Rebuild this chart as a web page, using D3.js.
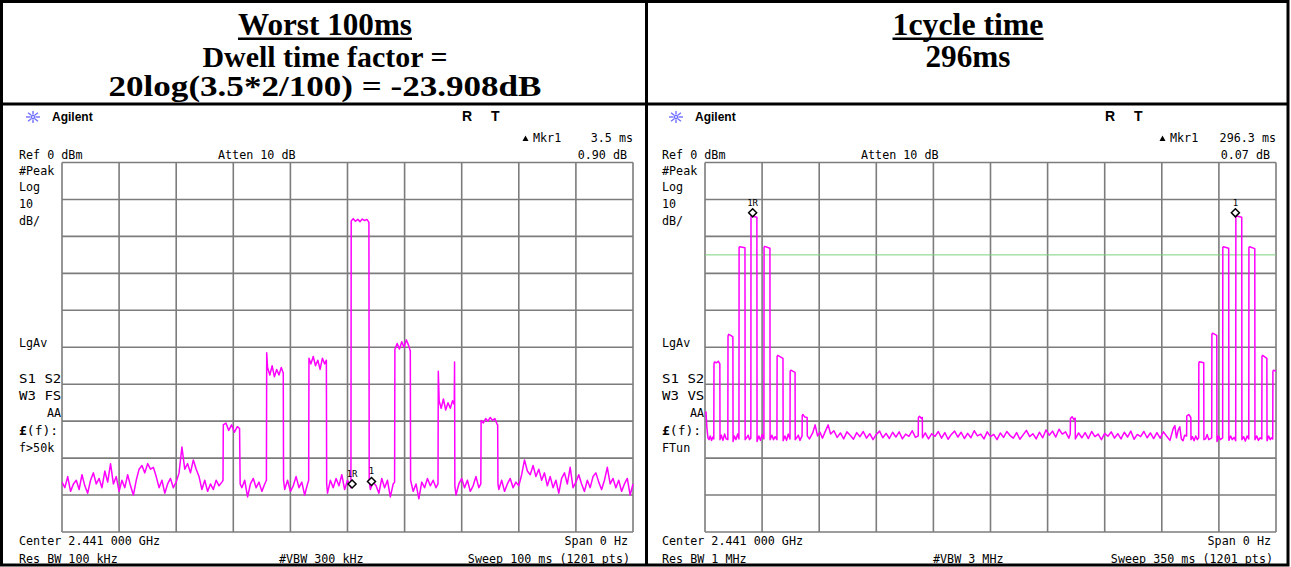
<!DOCTYPE html>
<html><head><meta charset="utf-8">
<script src="https://cdn.jsdelivr.net/npm/d3@7"></script>
<style>body{margin:0;background:#fff}svg{display:block}</style>
</head><body>
<svg id="c" width="1291" height="567"></svg>
<script>
// ---------------- DATA ----------------
const leftTitleLines = ["Worst 100ms", "Dwell time factor =", "20log(3.5*2/100) = -23.908dB"];
const rightTitleLines = ["1cycle time", "296ms"];

const refLevelDbm = 0, dbPerDiv = 10, gridDivisions = 10;
const leftSweepMs = 100, rightSweepMs = 350;

const leftHeader = ["Agilent", "R", "T", "Mkr1", "3.5 ms", "Ref 0 dBm", "Atten 10 dB", "0.90 dB"];
const rightHeader = ["Agilent", "R", "T", "Mkr1", "296.3 ms", "Ref 0 dBm", "Atten 10 dB", "0.07 dB"];
const leftSide = ["#Peak", "Log", "10", "dB/", "LgAv", "S1  S2", "W3  FS", "AA", "(f):", "f>50k"];
const rightSide = ["#Peak", "Log", "10", "dB/", "LgAv", "S1  S2", "W3  VS", "AA", "(f):", "FTun"];
const leftFooter = ["Center 2.441 000 GHz", "Span 0 Hz", "Res BW 100 kHz", "#VBW 300 kHz", "Sweep 100 ms (1201 pts)"];
const rightFooter = ["Center 2.441 000 GHz", "Span 0 Hz", "Res BW 1 MHz", "#VBW 3 MHz", "Sweep 350 ms (1201 pts)"];

// trace: [time ms, level dBm]
const leftTrace = [
[0,-86.5],[0.5,-88],[1,-85],[1.5,-89],[2,-87],[2.5,-86],[3,-88.5],[3.5,-84.5],[4,-87.5],[4.5,-89.5],[5,-86],[5.5,-84],[6,-87],[6.5,-85.5],[7,-88],[7.5,-83.5],[8,-86.5],[8.5,-81.5],[9,-87],[9.5,-85],[10,-89],[10.5,-86],[11,-88],[11.5,-84.5],[12,-87.5],[12.5,-90],[13,-86],[13.5,-83],[14,-82],[14.5,-84],[15,-81.5],[15.5,-83],[16,-82.5],[16.5,-85],[17,-88],[17.5,-86],[18,-89.5],[18.5,-87],[19,-85.5],[19.5,-88],[20,-86.5],[20.5,-84],[21,-77],[21.5,-83],[22,-81.5],[22.5,-84],[23,-80.5],[23.5,-83],[24,-85],[24.5,-88.5],[25,-86],[25.5,-89],[26,-87],[26.5,-88.5],[27,-86],[27.5,-87.5],[28,-86.5],
[28.2,-86],[28.25,-71],[28.7,-70.5],[29.2,-72.5],[29.7,-71],[30.2,-73],[30.7,-71.5],[31.1,-72],[31.2,-87],
[31.5,-88],[32,-86],[32.5,-90.5],[33,-87],[33.5,-85.5],[34,-88],[34.5,-86.5],[35,-89],[35.5,-87],
[35.8,-86],[35.85,-51.5],[36,-55.5],[36.4,-57.5],[36.8,-55],[37.2,-58],[37.6,-56],[38,-57.5],[38.4,-55.5],[38.75,-57],[38.8,-86],
[39,-88.5],[39.5,-86],[40,-89],[40.5,-87.5],[41,-85],[41.5,-88],[42,-86.5],[42.5,-90],[43,-87],
[43.2,-86],[43.25,-53],[43.6,-54.5],[44,-52.5],[44.4,-55],[44.8,-53.5],[45.2,-56],[45.6,-53],[46,-54.5],[46.3,-53.5],[46.35,-87],
[46.5,-89.5],[47,-86],[47.5,-88],[48,-85.5],[48.5,-87.5],[49,-84.5],[49.5,-88.5],[50,-86],[50.5,-87.5],
[50.6,-88],[50.65,-15.8],[51,-15.2],[51.4,-15.9],[51.8,-15.4],[52.2,-16],[52.6,-15.3],[53,-15.7],[53.4,-15.4],[53.75,-16.2],[53.8,-86],
[54,-88.5],[54.5,-86.5],[55,-87.5],[55.5,-89.5],[56,-85.5],[56.5,-88],[57,-86],[57.5,-90.5],[58,-87],
[58.25,-86.5],[58.3,-50.5],[58.7,-49],[59.1,-50.5],[59.5,-48.5],[59.9,-50],[60.3,-48],[60.7,-49.5],[61,-51],[61.05,-86],
[61.5,-89],[62,-87],[62.5,-91],[63,-86.5],[63.5,-88],[64,-85.5],[64.5,-87.5],[65,-86],[65.5,-88],
[65.85,-87],[65.9,-56.5],[66.05,-64.5],[66.4,-66.5],[66.8,-64],[67.2,-67],[67.6,-65],[68,-66.5],[68.4,-64.5],[68.7,-65.5],[68.75,-54],[68.8,-87.5],
[69,-90],[69.5,-87],[70,-85.5],[70.5,-88],[71,-86],[71.5,-89],[72,-87.5],[72.5,-85],[73,-88],
[73.35,-87],[73.4,-69.8],[73.8,-70.5],[74.2,-69.3],[74.6,-70],[75,-69],[75.4,-69.8],[75.8,-69.3],[76.2,-70.8],[76.3,-71],[76.35,-87],
[76.5,-88.5],[77,-86],[77.5,-89],[78,-87],[78.5,-85.5],[79,-88],[79.5,-86.5],[80,-87.5],[80.5,-84.5],[81,-80.5],[81.5,-83.5],[82,-84.5],[82.5,-82],[83,-85],[83.5,-83],[84,-86],[84.5,-84],[85,-87.5],[85.5,-85],[86,-88],[86.5,-86],[87,-89.5],[87.5,-85.5],[88,-84],[88.5,-87],[89,-82.5],[89.5,-88],[90,-86.5],[90.5,-84.5],[91,-87],[91.5,-89],[92,-86],[92.5,-88],[93,-85],[93.5,-84],[94,-86.5],[94.5,-88.5],[95,-86],[95.5,-82.5],[96,-87],[96.5,-85.5],[97,-88],[97.5,-86],[98,-89],[98.5,-87],[99,-85.5],[99.5,-90],[100,-87]
];

const rightTrace = [
[0,-68],[0.6,-67.5],[1.2,-72],[1.8,-74.5],[2.5,-75],[3.2,-74],[4,-75.2],[4.8,-74.3],[5.4,-74.8],
[5.5,-54.5],[5.8,-54],[7,-54.2],[8.2,-53.8],[9.1,-54.5],[9.2,-75],
[10,-73.8],[11,-75.2],[12,-73.5],[13,-74.8],[14,-75],
[14.1,-47],[14.5,-46.5],[15.8,-46.8],[17.1,-47.2],[17.2,-75.5],
[18,-74],[19,-75],[20,-73.5],[20.8,-74.8],
[20.9,-23],[21.3,-22.8],[24.5,-23.1],[24.6,-75],
[25.5,-74.5],[26.5,-73.8],[27.3,-75],[28.1,-74.6],
[28.2,-14.7],[28.6,-14.5],[31.8,-14.8],[31.9,-75.5],
[33,-74],[34,-75.2],[35,-73.6],[36.1,-74.8],
[36.2,-23],[36.6,-22.7],[39.8,-23.2],[39.9,-75],
[41,-73.8],[42,-75],[43,-74.2],[44.1,-75],
[44.2,-52.5],[44.6,-52.2],[47.8,-53],[47.9,-75.3],
[49,-74],[50,-75.2],[51,-73.5],[52.1,-74.8],
[52.2,-56.5],[52.6,-56.2],[55.2,-56.8],[55.3,-75],
[56.2,-74.5],[57.2,-73.8],[58.2,-75.2],[59.5,-74],
[59.6,-68.5],[60,-68.2],[61.2,-68.9],[62.6,-69],[62.7,-74],
[64,-74.8],[66,-73.2],[67.5,-71],[69,-74],[70.5,-73],[72,-74.6],[74,-72.5],[75.5,-71],[77,-73.5],[79,-72.6],[81,-74.4],[83,-73.2],[85,-74.8],[87,-72.9],[89,-73.8],[91,-74.9],[93,-73.1],[95,-74.2],[97,-72.8],[99,-74.6],[101,-73.4],[103,-75],[105,-73.6],[107,-72.7],[109,-74.5],[111,-73.3],[113,-74.7],[115,-73],[117,-74.3],[119,-72.9],[121,-74.8],[123,-73.5],[125,-74.1],[127,-72.6],[129,-74.4],
[130.7,-74],[130.8,-69],[131.5,-68.7],[132.5,-69.2],[133.2,-69],[133.3,-74.5],
[135,-73.2],[137,-74.8],[139,-73.4],[141,-74.1],[143,-72.8],[145,-74.6],[147,-73.1],[149,-74.9],[151,-73.6],[153,-72.7],[155,-74.3],[157,-73],[159,-74.7],[161,-73.3],[163,-74.5],[165,-72.6],[167,-74],[169,-73.5],[171,-74.8],[173,-72.9],[175,-74.2],[177,-73.6],[179,-75],[181,-73.2],[183,-74.4],[185,-72.8],[187,-73.9],[189,-74.6],[191,-73.1],[193,-74.9],[195,-73.7],[197,-72.5],[199,-74.2],[201,-73.4],[203,-74.8],[205,-73],[207,-74.5],[209,-72.4],[211,-73.8],[213,-72.7],[215,-74.3],[217,-72.2],[219,-73.5],[221,-72.9],[223,-74.6],
[223.9,-73.5],[224,-69.3],[225,-68.8],[226,-69.5],[226.9,-69.2],[227,-74.8],
[229,-73.2],[231,-74.5],[233,-73.1],[235,-74.7],[237,-72.8],[239,-74.2],[241,-73.5],[243,-75],[245,-73.3],[247,-74.1],[249,-72.9],[251,-74.6],[253,-73.4],[255,-74.8],[257,-73],[259,-74.3],[261,-72.7],[263,-74.9],[265,-73.6],[267,-74.2],[269,-72.8],[271,-74.5],[273,-73.2],[275,-74.7],[277,-73.1],[279,-74.6],[281,-72.9],[283,-74.1],[285,-75.2],[287,-72],[288,-71.2],[289,-74.5],[290,-72.5],[291,-71.5],[292,-74.8],[293,-75.3],[294,-73.8],
[295.2,-74],[295.3,-68.6],[296.5,-68.2],[297.8,-69],[297.9,-75],
[298.8,-74.2],[299.8,-75.3],[300.8,-74],[301.8,-75],[302.6,-74.5],
[302.7,-54.3],[303.1,-53.9],[305.7,-54.2],[305.8,-75],
[306.8,-74.8],[307.8,-73.6],[308.8,-75],[310.6,-74.5],
[310.7,-46.5],[311.1,-46.2],[313.7,-46.8],[313.8,-75.5],
[314.8,-74],[315.8,-75],[317.3,-74.5],
[317.4,-23],[317.8,-22.8],[321,-23.2],[321.1,-75.2],
[322.2,-74],[323.2,-75],[324.3,-74.4],[325.3,-75.3],
[325.4,-14.7],[325.8,-14.5],[329,-14.8],[329.1,-75],
[330.2,-74.2],[331.2,-75.4],[332.3,-74],[333.3,-74.8],
[333.4,-23],[333.8,-22.8],[337,-23.3],[337.1,-75],
[338.2,-74],[339.2,-75.2],[340.3,-74.5],[341.3,-74.8],
[341.4,-52.5],[341.8,-52.2],[344.4,-53],[344.5,-75.3],
[345.5,-74],[346.5,-75],[347.3,-74.5],[348,-74.8],
[348.1,-56.5],[348.5,-56.2],[350,-56.5]
];

// markers: [label, time ms, level dBm]
const leftMarkers = [["1R", 50.8, -88.1], ["1", 54.2, -87.4]];
const rightMarkers = [["1R", 29.2, -14.7], ["1", 325.1, -14.7]];
const rightDisplayLineDbm = -25;

// ---------------- DRAWING ----------------
const svg = d3.select("#c");
const MONO = "'DejaVu Sans Mono', 'Liberation Mono', monospace";
const CW = 7.05; // instrument char width

// table frame
const frame = svg.append("g").attr("fill", "none").attr("stroke", "#000");
frame.append("rect").attr("x", 1.5).attr("y", 1.5).attr("width", 1286.5).attr("height", 563.5).attr("stroke-width", 3);
frame.append("line").attr("x1", 646.5).attr("x2", 646.5).attr("y1", 1).attr("y2", 566).attr("stroke-width", 3);
frame.append("line").attr("x1", 1).attr("x2", 1289).attr("y1", 104).attr("y2", 104).attr("stroke-width", 3);

function titleBlock(cx, lines, sizes, baselines, widths) {
  lines.forEach((s, i) => {
    svg.append("text").attr("x", cx).attr("y", baselines[i])
      .attr("text-anchor", "middle")
      .attr("font-family", "'Liberation Serif','Times New Roman',serif")
      .attr("font-weight", "bold").attr("font-size", sizes[i])
      .attr("textLength", widths[i]).attr("lengthAdjust", "spacingAndGlyphs")
      .text(s);
    if (i === 0) {
      svg.append("rect").attr("x", cx - widths[i] / 2).attr("y", baselines[i] + 2.5)
        .attr("width", widths[i]).attr("height", 2.5).attr("fill", "#000");
    }
  });
}
titleBlock(325, leftTitleLines, [31, 29, 29], [35, 67, 96], [174, 245, 433]);
titleBlock(968, rightTitleLines, [31, 31], [35, 67], [151, 85]);

function mono(g, x, y, s, anchor) {
  return g.append("text").attr("x", x).attr("y", y)
    .attr("font-family", MONO).attr("font-size", 13)
    .attr("text-anchor", anchor || "start")
    .attr("textLength", s.length * CW).attr("lengthAdjust", "spacingAndGlyphs")
    .attr("fill", "#000").text(s);
}

function panel(off, sweepMs, header, side, footer, trace, markers, displayLine) {
  const g = svg.append("g");
  const x0 = 62 + off, x1 = 633 + off;
  const x = d3.scaleLinear().domain([0, sweepMs]).range([x0, x1]);
  const y = d3.scaleLinear().domain([refLevelDbm - dbPerDiv * gridDivisions, refLevelDbm]).range([532, 162.5]);

  // grid
  const gx = d3.range(gridDivisions + 1).map(i => i * sweepMs / gridDivisions);
  const gy = d3.range(gridDivisions + 1).map(i => refLevelDbm - i * dbPerDiv);
  g.append("g").selectAll("line").data(gx).join("line")
    .attr("x1", d => x(d)).attr("x2", d => x(d)).attr("y1", y.range()[1]).attr("y2", y.range()[0])
    .attr("stroke", "#7c7c7c").attr("stroke-width", 1.6);
  g.append("g").selectAll("line").data(gy).join("line")
    .attr("y1", d => y(d)).attr("y2", d => y(d)).attr("x1", x0).attr("x2", x1)
    .attr("stroke", "#7c7c7c").attr("stroke-width", 1.6);

  if (displayLine !== null) {
    g.append("line").attr("x1", x0).attr("x2", x1).attr("y1", y(displayLine)).attr("y2", y(displayLine))
      .attr("stroke", "#7ccf7c").attr("stroke-width", 1);
  }

  // trace
  const clipId = "clip" + off;
  svg.append("clipPath").attr("id", clipId).append("rect")
    .attr("x", x0).attr("y", 160).attr("width", x1 - x0 + 1).attr("height", 374);
  const line = d3.line().x(d => x(d[0])).y(d => y(d[1]));
  g.append("path").datum(trace).attr("d", line).attr("fill", "none")
    .attr("stroke", "#ff00ff").attr("stroke-width", 1.5).attr("stroke-linejoin", "round")
    .attr("clip-path", `url(#${clipId})`);

  // markers
  markers.forEach(m => {
    const mx = x(m[1]), my = y(m[2]) - 4;
    g.append("path").attr("d", `M${mx},${my - 4}L${mx + 4},${my}L${mx},${my + 4}L${mx - 4},${my}Z`)
      .attr("fill", "#fff").attr("stroke", "#000").attr("stroke-width", 1.5);
    g.append("text").attr("x", mx).attr("y", my - 7).attr("text-anchor", "middle")
      .attr("font-family", MONO).attr("font-size", 9).attr("fill", "#000").text(m[0]);
  });

  // header
  const star = g.append("g").attr("transform", `translate(${33 + off},117)`)
    .attr("stroke", "#6f6fff").attr("stroke-width", 1.4);
  d3.range(8).forEach(i => {
    const a = i * Math.PI / 4;
    star.append("line").attr("x1", 2.5 * Math.cos(a)).attr("y1", 2.5 * Math.sin(a))
      .attr("x2", 7 * Math.cos(a)).attr("y2", 6 * Math.sin(a));
  });
  star.append("circle").attr("r", 1.6).attr("fill", "none");
  g.append("text").attr("x", 52 + off).attr("y", 121).attr("font-family", "'Liberation Sans',Arial,sans-serif")
    .attr("font-weight", "bold").attr("font-size", 12).text(header[0]);
  g.append("text").attr("x", 462 + off).attr("y", 121).attr("font-family", "'Liberation Sans',Arial,sans-serif")
    .attr("font-weight", "bold").attr("font-size", 14).text(header[1]);
  g.append("text").attr("x", 491 + off).attr("y", 121).attr("font-family", "'Liberation Sans',Arial,sans-serif")
    .attr("font-weight", "bold").attr("font-size", 14).text(header[2]);
  // marker readout
  const mk = off ? off - 6 : 0;
  g.append("path").attr("d", `M${522.5 + mk},${141}L${528.5 + mk},${141}L${525.5 + mk},${135.5}Z`).attr("fill", "#000");
  mono(g, 533 + mk, 142, header[3]);
  mono(g, 633 + off, 142, header[4], "end");
  mono(g, 19 + off, 159, header[5]);
  mono(g, 218 + off, 159, header[6]);
  mono(g, 627 + off, 159, header[7], "end");

  // side labels
  const sy = [175, 191, 208, 225, 347, 383, 400, 417, 435, 452];
  side.forEach((s, i) => {
    if (i === 7) { mono(g, 61 + off, sy[i], s, "end"); return; }
    if (i === 8) {
      const t = g.append("text").attr("x", 19 + off).attr("y", sy[i]).attr("font-family", MONO).attr("font-size", 13);
      t.append("tspan").attr("font-weight", "bold").text("£");
      t.append("tspan").text(s);
      return;
    }
    mono(g, 19 + off, sy[i], s);
  });

  // footer
  mono(g, 19 + off, 545, footer[0]);
  mono(g, 628 + off, 545, footer[1], "end");
  mono(g, 19 + off, 563, footer[2]);
  mono(g, (off ? 933 - 643 : 279) + off, 563, footer[3]);
  mono(g, 630 + off, 563, footer[4], "end");
}

panel(0, leftSweepMs, leftHeader, leftSide, leftFooter, leftTrace, leftMarkers, null);
panel(643, rightSweepMs, rightHeader, rightSide, rightFooter, rightTrace, rightMarkers, rightDisplayLineDbm);
</script>
</body></html>
